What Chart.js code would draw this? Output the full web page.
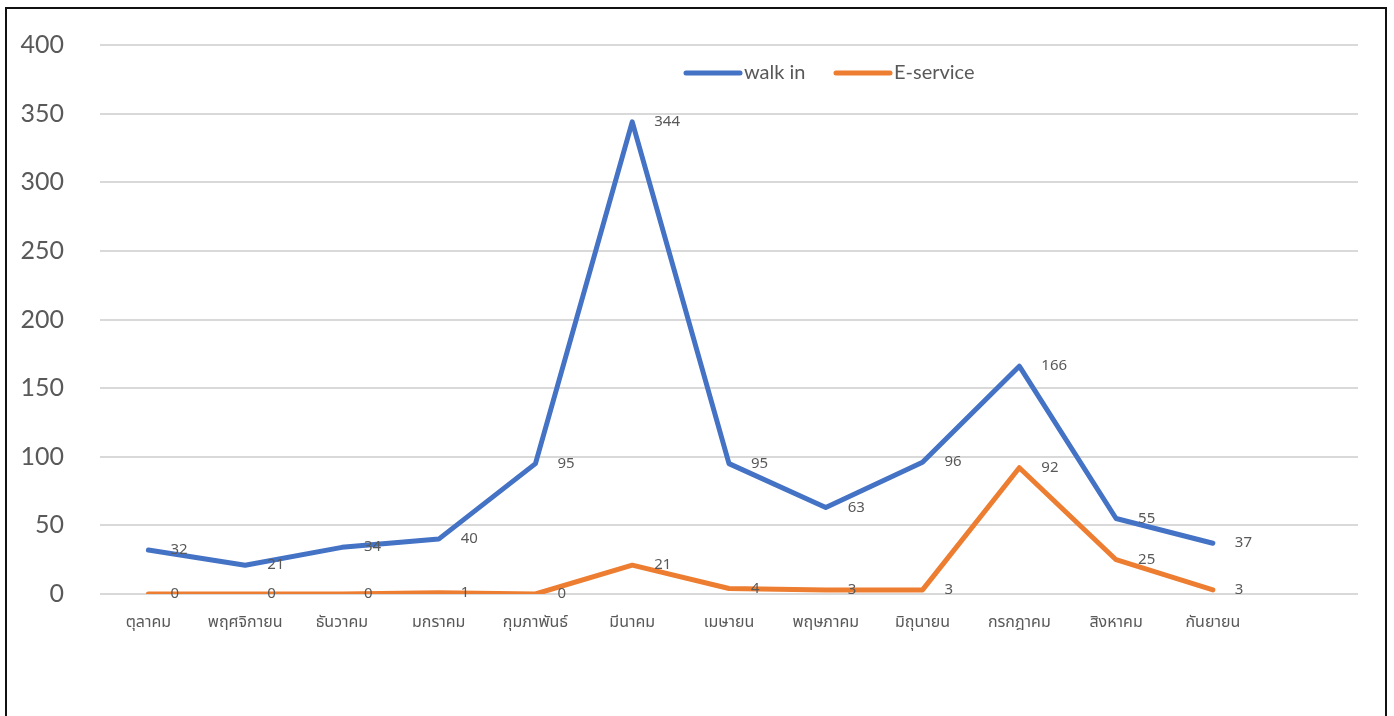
<!DOCTYPE html>
<html>
<head>
<meta charset="utf-8">
<script src="https://cdn.jsdelivr.net/npm/chart.js@4"></script>
<style>
  html, body { margin: 0; padding: 0; background: #fff; overflow: hidden; }
  #wrap { position: relative; width: 1394px; height: 716px; }
  #frame {
    position: absolute; left: 5px; top: 7px; width: 1382px; height: 760px;
    box-sizing: border-box; border: 2px solid #111; pointer-events: none;
  }
</style>
</head>
<body>
<div id="wrap">
  <canvas id="chart" width="1394" height="716"></canvas>
  <div id="frame"></div>
</div>
<script>
// months (last slot is an empty category, like the source sheet)
const months = ['ตุลาคม', 'พฤศจิกายน', 'ธันวาคม', 'มกราคม', 'กุมภาพันธ์', 'มีนาคม',
    'เมษายน', 'พฤษภาคม', 'มิถุนายน', 'กรกฎาคม', 'สิงหาคม', 'กันยายน', ''];
const walkIn = [32, 21, 34, 40, 95, 344, 95, 63, 96, 166, 55, 37, null];
const eService = [0, 0, 0, 1, 0, 21, 4, 3, 3, 92, 25, 3, null];
const yTicks = [0, 50, 100, 150, 200, 250, 300, 350, 400];

const textGrey = '#595959';
const thaiFont = '"Noto Sans Thai", "Leelawadee UI", Tahoma, "Noto Sans", sans-serif';

// value labels to the right of each point
const pointLabels = {
    id: 'pointLabels',
    afterDatasetsDraw(chart) {
        const ctx = chart.ctx;
        ctx.save();
        ctx.font = '15px ' + thaiFont;
        ctx.fillStyle = textGrey;
        ctx.textAlign = 'left';
        ctx.textBaseline = 'middle';
        chart.data.datasets.forEach((ds, i) => {
            chart.getDatasetMeta(i).data.forEach((pt, j) => {
                if (ds.data[j] == null) return;
                ctx.fillText(String(ds.data[j]), pt.x + 22, pt.y + 1);
            });
        });
        ctx.restore();
    }
};

// legend drawn inside the plot, near the top
const innerLegend = {
    id: 'innerLegend',
    afterDraw(chart) {
        const ctx = chart.ctx;
        const items = [{ x: 686 }, { x: 836 }];
        ctx.save();
        ctx.font = '20px Lato, "Noto Sans", sans-serif';
        ctx.textBaseline = 'middle';
        ctx.lineCap = 'round';
        chart.data.datasets.forEach((ds, i) => {
            const x = items[i].x, y = 73;
            ctx.strokeStyle = ds.borderColor;
            ctx.lineWidth = 5;
            ctx.beginPath();
            ctx.moveTo(x, y);
            ctx.lineTo(x + 54, y);
            ctx.stroke();
            ctx.fillStyle = textGrey;
            ctx.fillText(ds.label, x + 58, y);
        });
        ctx.restore();
    }
};

new Chart(document.getElementById('chart'), {
    type: 'line',
    data: {
        labels: months,
        datasets: [
            {
                label: 'walk in',
                data: walkIn,
                borderColor: '#4472C4',
                backgroundColor: '#4472C4',
                borderWidth: 5,
                borderCapStyle: 'round',
                borderJoinStyle: 'round',
                pointRadius: 0,
                tension: 0
            },
            {
                label: 'E-service',
                data: eService,
                borderColor: '#ED7D31',
                backgroundColor: '#ED7D31',
                borderWidth: 5,
                borderCapStyle: 'round',
                borderJoinStyle: 'round',
                pointRadius: 0,
                tension: 0
            }
        ]
    },
    options: {
        responsive: false,
        animation: false,
        layout: { padding: { left: 0, right: 36, top: 45, bottom: 0 } },
        plugins: { legend: { display: false }, tooltip: { enabled: false } },
        scales: {
            x: {
                offset: true,
                grid: { display: false, drawTicks: false },
                border: { display: false },
                ticks: {
                    color: textGrey,
                    font: { family: thaiFont, size: 16 },
                    padding: 20,
                    maxRotation: 0,
                    autoSkip: false
                },
                afterFit(s) { s.height = 122; }
            },
            y: {
                min: 0,
                max: 400,
                afterBuildTicks(s) { s.ticks = yTicks.map(v => ({ value: v })); },
                grid: { color: '#D9D9D9', lineWidth: 2, drawTicks: false },
                border: { display: false },
                ticks: {
                    color: textGrey,
                    font: { family: 'Lato, "Noto Sans", sans-serif', size: 25, weight: 400 },
                    padding: 36
                },
                afterFit(s) {
                    s.width = 100;
                    s.paddingTop = 10;
                    s.paddingBottom = 10;
                }
            }
        }
    },
    plugins: [pointLabels, innerLegend]
});
</script>
</body>
</html>
